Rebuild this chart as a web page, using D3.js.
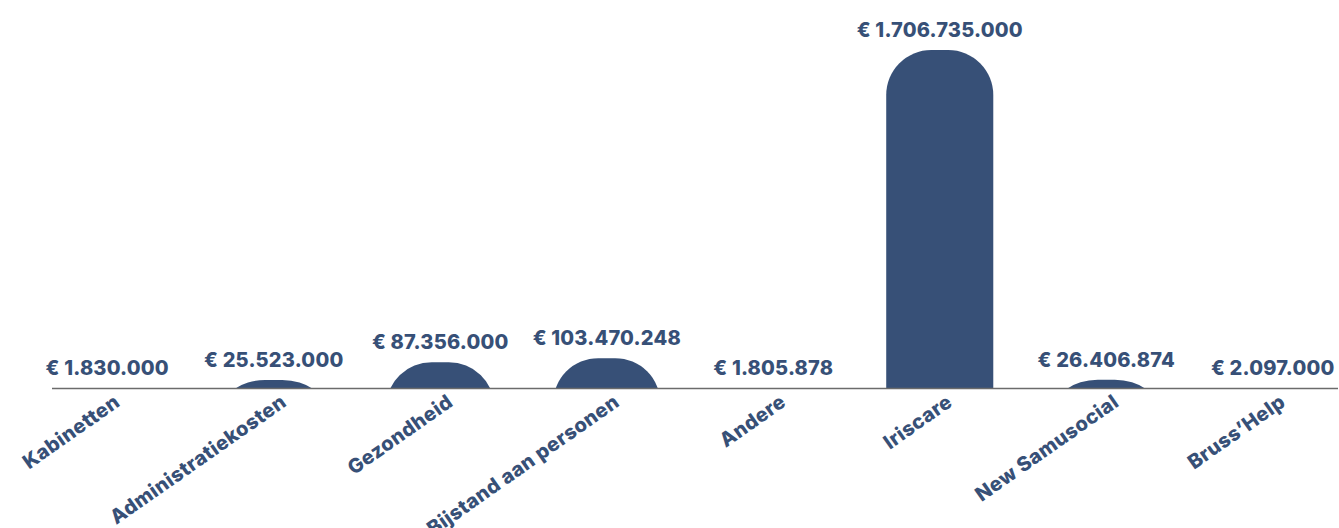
<!DOCTYPE html>
<html>
<head>
<meta charset="utf-8">
<script src="https://cdn.jsdelivr.net/npm/d3@7"></script>
<style>
  html, body { margin: 0; padding: 0; background: #fff; }
  text { font-family: Inter, "Open Sans", sans-serif; font-weight: 800; }
</style>
</head>
<body>
<svg id="chart" width="1339" height="528"></svg>
<script>
// categorieën en bedragen (euro)
const categorieen = ["Kabinetten", "Administratiekosten", "Gezondheid", "Bijstand aan personen",
  "Andere", "Iriscare", "New Samusocial", "Bruss\u2019Help"];
const bedragen = [1830000, 25523000, 87356000, 103470248, 1805878, 1706735000, 26406874, 2097000];
const labels = ["€ 1.830.000", "€ 25.523.000", "€ 87.356.000", "€ 103.470.248",
  "€ 1.805.878", "€ 1.706.735.000", "€ 26.406.874", "€ 2.097.000"];

const WIDTH = 1339, HEIGHT = 528;
const KLEUR = "#375077";
const basisY = 388;

const svg = d3.select("#chart");

const x = d3.scaleBand()
  .domain(categorieen)
  .range([24, 1356])
  .paddingInner(0.357)
  .paddingOuter(0.1785);

const y = d3.scalePow()
  .exponent(0.85)
  .domain([0, d3.max(bedragen)])
  .range([basisY + 1.5, 50]);

// alles onder de basislijn wegknippen
svg.append("clipPath").attr("id", "boven-as")
  .append("rect")
  .attr("x", 0).attr("y", 0)
  .attr("width", WIDTH).attr("height", basisY);

const data = categorieen.map((c, i) => ({ cat: c, waarde: bedragen[i], label: labels[i] }));

svg.append("g")
  .attr("clip-path", "url(#boven-as)")
  .selectAll("rect")
  .data(data)
  .join("rect")
  .attr("x", d => x(d.cat))
  .attr("y", d => y(d.waarde))
  .attr("width", x.bandwidth())
  .attr("height", d => basisY + 60 - y(d.waarde))
  .attr("rx", 45)
  .attr("ry", 45)
  .attr("fill", KLEUR);

// basislijn
svg.append("line")
  .attr("x1", 52).attr("x2", 1338)
  .attr("y1", basisY + 0.5).attr("y2", basisY + 0.5)
  .attr("stroke", "#6b6b6b")
  .attr("stroke-width", 1.5);

// bedragen boven de staven
svg.append("g")
  .selectAll("text")
  .data(data)
  .join("text")
  .attr("x", d => x(d.cat) + x.bandwidth() / 2)
  .attr("y", d => Math.min(y(d.waarde), basisY) - 13)
  .attr("text-anchor", "middle")
  .attr("font-size", 20)
  .attr("letter-spacing", 0.2)
  .attr("fill", KLEUR)
  .text(d => d.label);

// schuine categorielabels
svg.append("g")
  .selectAll("text")
  .data(data)
  .join("text")
  .attr("transform", d => `translate(${x(d.cat) + x.bandwidth() / 2 + 14},${basisY + 17}) rotate(-35)`)
  .attr("text-anchor", "end")
  .attr("font-size", 20)
  .attr("letter-spacing", 0.4)
  .attr("fill", KLEUR)
  .text(d => d.cat);
</script>
</body>
</html>
